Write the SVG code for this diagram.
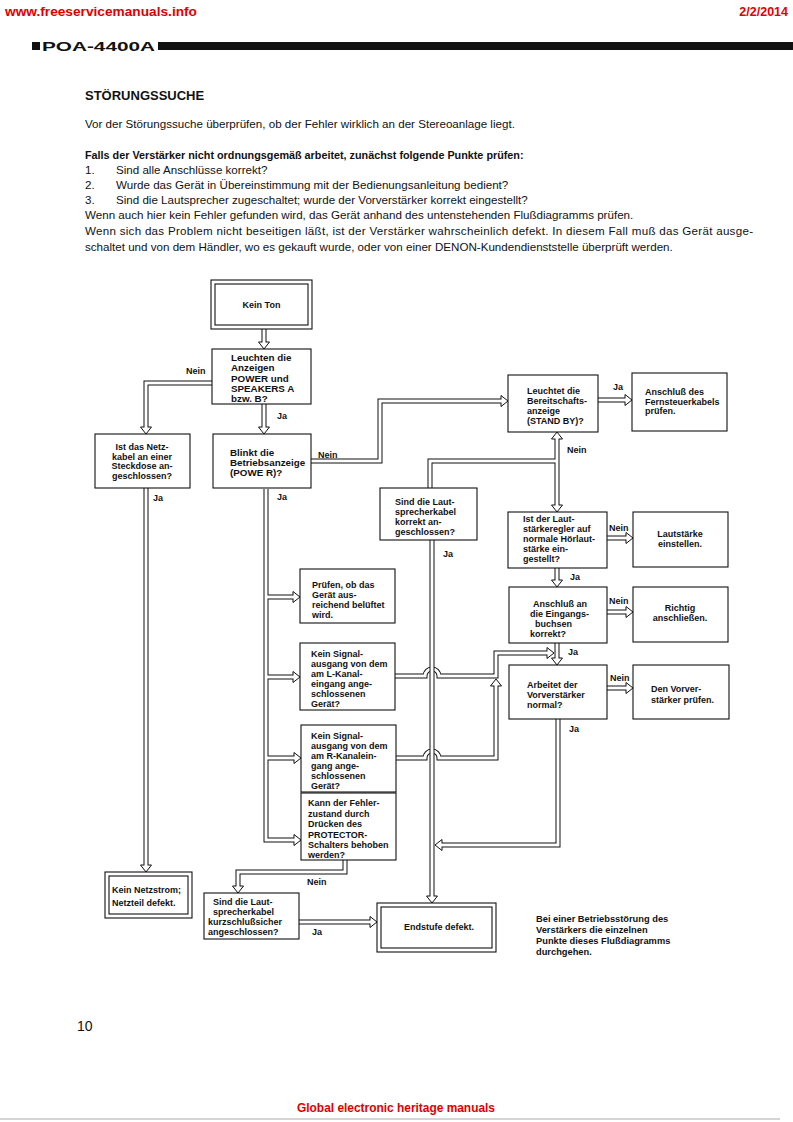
<svg xmlns="http://www.w3.org/2000/svg" xmlns:xlink="http://www.w3.org/1999/xlink" width="793" height="1122" viewBox="0 0 793 1122">
<style>
text{font-family:"Liberation Sans",Arial,sans-serif;fill:#111}
.red{fill:#e00000;font-weight:bold;font-size:12.5px}
.h{font-weight:bold;font-size:13px}
.b{font-size:11.6px}
.bb{font-size:10.8px;font-weight:bold}
.t{font-size:9px;font-weight:bold}
.tl{font-size:9.8px;font-weight:bold}
.box{fill:#fff;stroke:#111;stroke-width:1.1}
.wo{fill:none;stroke:#111;stroke-width:5}
.wi{fill:none;stroke:#fff;stroke-width:3}
.ah{fill:#fff;stroke:#111;stroke-width:1}
</style>
<defs>
<path id="ah" d="M-5.5,-7 L5.5,-7 L0,0 Z"/>
<path id="c1" d="M264,328 V343"/>
<path id="c2" d="M264,404 V428"/>
<path id="c3" d="M212,383 H146 V428"/>
<path id="c4" d="M146,488 V866"/>
<path id="c5" d="M311,461 H380 V401 H502"/>
<path id="c6" d="M598,400 H626"/>
<path id="c7" d="M557,438 V506"/>
<path id="c7b" d="M430,488 V461 H557"/>
<path id="c8" d="M607,538 H627"/>
<path id="c9" d="M557,568 V581"/>
<path id="c10" d="M607,612 H627"/>
<path id="c11" d="M557,643 V659"/>
<path id="c12" d="M607,688 H627"/>
<path id="c13" d="M558,719 V845 H441"/>
<path id="c15" d="M266,489 V840 H295 M266,597 H294 M266,677 H294 M266,758 H295"/>
<path id="c16" d="M345,860 V872 H238 V887"/>
<path id="c17" d="M299,922 H371"/>
<path id="cL" d="M395,676 H425 A7,7 0 0 1 439,676 H496 V653 H548"/>
<path id="cR" d="M396,758 H425 A7,7 0 0 1 439,758 H496 V685"/>
<path id="cV" d="M432,540 V897"/>
</defs>
<rect width="793" height="1122" fill="#fff"/>

<g id="header">
<text class="red" x="5" y="16" textLength="192" lengthAdjust="spacingAndGlyphs">www.freeservicemanuals.info</text>
<text class="red" x="788" y="16" text-anchor="end">2/2/2014</text>
<rect x="32" y="42" width="8" height="8" fill="#111"/>
<text x="42" y="50.5" style="font-weight:bold;font-size:12px" textLength="113" lengthAdjust="spacingAndGlyphs">POA-4400A</text>
<rect x="158" y="42" width="635" height="8" fill="#111"/>
</g>

<g id="intro">
<text class="h" x="85" y="100">STÖRUNGSSUCHE</text>
<text class="b" x="85" y="128">Vor der Störungssuche überprüfen, ob der Fehler wirklich an der Stereoanlage liegt.</text>
<text class="bb" x="85" y="159">Falls der Verstärker nicht ordnungsgemäß arbeitet, zunächst folgende Punkte prüfen:</text>
<text class="b" x="85" y="174">1.</text>
<text class="b" x="116" y="174">Sind alle Anschlüsse korrekt?</text>
<text class="b" x="85" y="189">2.</text>
<text class="b" x="116" y="189">Wurde das Gerät in Übereinstimmung mit der Bedienungsanleitung bedient?</text>
<text class="b" x="85" y="204">3.</text>
<text class="b" x="116" y="204">Sind die Lautsprecher zugeschaltet; wurde der Vorverstärker korrekt eingestellt?</text>
<text class="b" x="85" y="219">Wenn auch hier kein Fehler gefunden wird, das Gerät anhand des untenstehenden Flußdiagramms prüfen.</text>
<text class="b" x="85" y="235" textLength="668" lengthAdjust="spacing">Wenn sich das Problem nicht beseitigen läßt, ist der Verstärker wahrscheinlich defekt. In diesem Fall muß das Gerät ausge-</text>
<text class="b" x="85" y="251">schaltet und von dem Händler, wo es gekauft wurde, oder von einer DENON-Kundendienststelle überprüft werden.</text>
</g>

<g id="connectors">
<g class="wo">
<use xlink:href="#c1"/><use xlink:href="#c2"/><use xlink:href="#c3"/><use xlink:href="#c4"/>
<use xlink:href="#c5"/><use xlink:href="#c6"/><use xlink:href="#c7"/><use xlink:href="#c7b"/>
<use xlink:href="#c8"/><use xlink:href="#c9"/><use xlink:href="#c10"/><use xlink:href="#c11"/>
<use xlink:href="#c12"/><use xlink:href="#c13"/><use xlink:href="#c15"/><use xlink:href="#c16"/><use xlink:href="#c17"/>
</g>
<g class="ah">
<use xlink:href="#ah" transform="translate(264,349)"/>
<use xlink:href="#ah" transform="translate(264,434)"/>
<use xlink:href="#ah" transform="translate(146,434)"/>
<use xlink:href="#ah" transform="translate(146,872)"/>
<use xlink:href="#ah" transform="translate(508,401) rotate(-90)"/>
<use xlink:href="#ah" transform="translate(632,400) rotate(-90)"/>
<use xlink:href="#ah" transform="translate(557,432) rotate(180)"/>
<use xlink:href="#ah" transform="translate(557,512)"/>
<use xlink:href="#ah" transform="translate(633,538) rotate(-90)"/>
<use xlink:href="#ah" transform="translate(557,587)"/>
<use xlink:href="#ah" transform="translate(633,612) rotate(-90)"/>
<use xlink:href="#ah" transform="translate(557,665)"/>
<use xlink:href="#ah" transform="translate(633,688) rotate(-90)"/>
<use xlink:href="#ah" transform="translate(435,845) rotate(90)"/>
<use xlink:href="#ah" transform="translate(300,597) rotate(-90)"/>
<use xlink:href="#ah" transform="translate(300,677) rotate(-90)"/>
<use xlink:href="#ah" transform="translate(301,758) rotate(-90)"/>
<use xlink:href="#ah" transform="translate(301,840) rotate(-90)"/>
<use xlink:href="#ah" transform="translate(238,893)"/>
<use xlink:href="#ah" transform="translate(377,922) rotate(-90)"/>
</g>
<g class="wi">
<use xlink:href="#c1"/><use xlink:href="#c2"/><use xlink:href="#c3"/><use xlink:href="#c4"/>
<use xlink:href="#c5"/><use xlink:href="#c6"/><use xlink:href="#c7"/><use xlink:href="#c7b"/>
<use xlink:href="#c8"/><use xlink:href="#c9"/><use xlink:href="#c10"/><use xlink:href="#c11"/>
<use xlink:href="#c12"/><use xlink:href="#c13"/><use xlink:href="#c15"/><use xlink:href="#c16"/><use xlink:href="#c17"/>
</g>
<g class="wo"><use xlink:href="#cL"/><use xlink:href="#cR"/></g>
<g class="ah">
<use xlink:href="#ah" transform="translate(554,653) rotate(-90)"/>
<use xlink:href="#ah" transform="translate(496,679) rotate(180)"/>
</g>
<g class="wi"><use xlink:href="#cL"/><use xlink:href="#cR"/></g>
<g class="wo"><use xlink:href="#cV"/></g>
<g class="ah"><use xlink:href="#ah" transform="translate(432,903)"/></g>
<g class="wi"><use xlink:href="#cV"/></g>
</g>

<g id="labels" class="t">
<text x="186" y="374">Nein</text>
<text x="277" y="419">Ja</text>
<text x="153" y="501">Ja</text>
<text x="318" y="458">Nein</text>
<text x="277" y="500">Ja</text>
<text x="613" y="390">Ja</text>
<text x="567" y="453">Nein</text>
<text x="443" y="557">Ja</text>
<text x="609" y="531">Nein</text>
<text x="570" y="580">Ja</text>
<text x="609" y="604">Nein</text>
<text x="568" y="655">Ja</text>
<text x="610" y="681">Nein</text>
<text x="569" y="732">Ja</text>
<text x="307" y="885">Nein</text>
<text x="312" y="935">Ja</text>
</g>

<g id="n-keinton">
<rect class="box" x="211" y="280" width="101" height="49"/>
<rect class="box" x="215" y="284" width="93" height="41"/>
<text class="t" x="261.5" y="308" text-anchor="middle">Kein Ton</text>
</g>

<g id="n-leuchten">
<rect class="box" x="212" y="349" width="99" height="55"/>
<text class="tl"><tspan x="231" y="361">Leuchten die</tspan><tspan x="231" y="371">Anzeigen</tspan><tspan x="231" y="381.5">POWER und</tspan><tspan x="231" y="392">SPEAKERS A</tspan><tspan x="231" y="402">bzw. B?</tspan></text>
</g>

<g id="n-netz">
<rect class="box" x="95" y="434" width="95" height="54"/>
<text class="t" text-anchor="middle"><tspan x="142" y="450">Ist das Netz-</tspan><tspan x="142" y="459.5">kabel an einer</tspan><tspan x="142" y="469">Steckdose an-</tspan><tspan x="142" y="478.5">geschlossen?</tspan></text>
</g>

<g id="n-blinkt">
<rect class="box" x="213" y="434" width="98" height="54"/>
<text class="tl"><tspan x="230" y="456">Blinkt die</tspan><tspan x="230" y="466">Betriebsanzeige</tspan><tspan x="230" y="476">(POWE R)?</tspan></text>
</g>

<g id="n-leuchtet">
<rect class="box" x="508" y="375" width="90" height="57"/>
<text class="t"><tspan x="527" y="394">Leuchtet die</tspan><tspan x="527" y="404">Bereitschafts-</tspan><tspan x="527" y="414">anzeige</tspan><tspan x="527" y="424">(STAND BY)?</tspan></text>
</g>

<g id="n-fernsteuer">
<rect class="box" x="632" y="373" width="95" height="58"/>
<text class="t"><tspan x="645" y="395">Anschluß des</tspan><tspan x="645" y="404.5">Fernsteuerkabels</tspan><tspan x="645" y="414">prüfen.</tspan></text>
</g>

<g id="n-lautkabel">
<rect class="box" x="380" y="488" width="97" height="52"/>
<text class="t"><tspan x="395" y="505">Sind die Laut-</tspan><tspan x="395" y="515">sprecherkabel</tspan><tspan x="395" y="525">korrekt an-</tspan><tspan x="395" y="535">geschlossen?</tspan></text>
</g>

<g id="n-laut">
<rect class="box" x="508" y="512" width="99" height="56"/>
<text class="t"><tspan x="523" y="522">Ist der Laut-</tspan><tspan x="523" y="532">stärkeregler auf</tspan><tspan x="523" y="542">normale Hörlaut-</tspan><tspan x="523" y="552">stärke ein-</tspan><tspan x="523" y="562">gestellt?</tspan></text>
</g>

<g id="n-lautstaerke">
<rect class="box" x="633" y="512" width="95" height="55"/>
<text class="t" text-anchor="middle"><tspan x="680" y="537">Lautstärke</tspan><tspan x="680" y="547">einstellen.</tspan></text>
</g>

<g id="n-eingang">
<rect class="box" x="509" y="587" width="98" height="56"/>
<text class="t"><tspan x="533" y="607">Anschluß an</tspan><tspan x="530" y="617">die Eingangs-</tspan><tspan x="535" y="627">buchsen</tspan><tspan x="530" y="637">korrekt?</tspan></text>
</g>

<g id="n-richtig">
<rect class="box" x="633" y="587" width="95" height="55"/>
<text class="t" text-anchor="middle"><tspan x="680" y="611">Richtig</tspan><tspan x="680" y="621">anschließen.</tspan></text>
</g>

<g id="n-vorverst">
<rect class="box" x="509" y="665" width="98" height="54"/>
<text class="t"><tspan x="527" y="688">Arbeitet der</tspan><tspan x="527" y="698">Vorverstärker</tspan><tspan x="527" y="708">normal?</tspan></text>
</g>

<g id="n-vorverpruefen">
<rect class="box" x="633" y="665" width="96" height="54"/>
<text class="t"><tspan x="651" y="692">Den Vorver-</tspan><tspan x="651" y="703">stärker prüfen.</tspan></text>
</g>

<g id="n-belueftet">
<rect class="box" x="300" y="569" width="95" height="54"/>
<text class="t"><tspan x="312" y="588">Prüfen, ob das</tspan><tspan x="312" y="598">Gerät aus-</tspan><tspan x="312" y="608">reichend belüftet</tspan><tspan x="312" y="618">wird.</tspan></text>
</g>

<g id="n-lkanal">
<rect class="box" x="300" y="643" width="95" height="67"/>
<text class="t"><tspan x="311" y="657">Kein Signal-</tspan><tspan x="311" y="667">ausgang von dem</tspan><tspan x="311" y="677">am L-Kanal-</tspan><tspan x="311" y="687">eingang ange-</tspan><tspan x="311" y="697">schlossenen</tspan><tspan x="311" y="707">Gerät?</tspan></text>
</g>

<g id="n-rkanal">
<rect class="box" x="301" y="725" width="95" height="67"/>
<text class="t"><tspan x="311" y="739">Kein Signal-</tspan><tspan x="311" y="749">ausgang von dem</tspan><tspan x="311" y="759">am R-Kanalein-</tspan><tspan x="311" y="769">gang ange-</tspan><tspan x="311" y="779">schlossenen</tspan><tspan x="311" y="789">Gerät?</tspan></text>
</g>

<g id="n-protector">
<rect class="box" x="301" y="793" width="95" height="67"/>
<text class="t"><tspan x="308" y="806">Kann der Fehler-</tspan><tspan x="308" y="816.5">zustand durch</tspan><tspan x="308" y="827">Drücken des</tspan><tspan x="308" y="837.5">PROTECTOR-</tspan><tspan x="308" y="848">Schalters behoben</tspan><tspan x="308" y="858">werden?</tspan></text>
</g>

<g id="n-netzteil">
<rect class="box" x="105" y="872" width="87" height="46"/>
<rect class="box" x="109" y="876" width="79" height="38"/>
<text class="t"><tspan x="112" y="893">Kein Netzstrom;</tspan><tspan x="112" y="906">Netzteil defekt.</tspan></text>
</g>

<g id="n-kurzschluss">
<rect class="box" x="204" y="893" width="95" height="46"/>
<text class="t"><tspan x="213" y="905">Sind die Laut-</tspan><tspan x="213" y="914.5">sprecherkabel</tspan><tspan x="208" y="925">kurzschlußsicher</tspan><tspan x="208" y="935">angeschlossen?</tspan></text>
</g>

<g id="n-endstufe">
<rect class="box" x="377" y="903" width="119" height="49"/>
<rect class="box" x="381" y="907" width="111" height="41"/>
<text class="t" x="439" y="930" text-anchor="middle">Endstufe defekt.</text>
</g>

<g id="note">
<text class="t" style="font-size:9.3px"><tspan x="536" y="922">Bei einer Betriebsstörung des</tspan><tspan x="536" y="933">Verstärkers die einzelnen</tspan><tspan x="536" y="944">Punkte dieses Flußdiagramms</tspan><tspan x="536" y="955">durchgehen.</tspan></text>
</g>

<g id="footer">
<text x="77" y="1031" style="font-size:14px">10</text>
<text class="red" x="297" y="1112" textLength="198" lengthAdjust="spacingAndGlyphs" style="font-size:12px">Global electronic heritage manuals</text>
<line x1="0" y1="1119" x2="780" y2="1119" stroke="#aaa" stroke-width="1"/>
</g>
</svg>
